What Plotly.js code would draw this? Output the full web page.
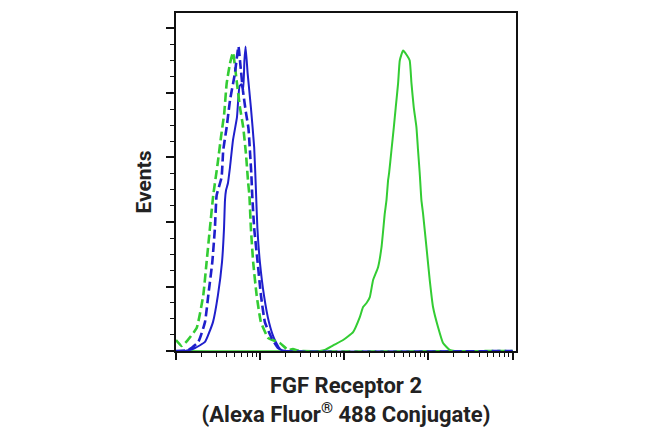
<!DOCTYPE html>
<html>
<head>
<meta charset="utf-8">
<script src="https://cdn.plot.ly/plotly-3.0.1.min.js"></script>
<style>
  body { margin: 0; background: #fff; }
  #chart { width: 650px; height: 438px; }
</style>
</head>
<body>
<div id="chart"></div>
<script>
// fluorescence intensity (log axis) and event counts
var blueSolidX = [10, 12.8, 16.8, 22.1, 27.5, 31.5, 35.2, 37.2, 38.2, 39.3, 41.4, 43.8, 47.5, 53.0, 56.8, 59.8, 62.9, 65.0, 67.1, 71.0, 77.6, 84.9, 89.1, 92.7, 99.3, 110.9, 127.1, 145.5, 171.4, 196.8, 100000];
var blueSolidY = [0, 0, 2.3, 7.0, 22.4, 43.3, 68.9, 95.2, 116.9, 124.6, 130.0, 142.4, 163.3, 181.1, 205.1, 206.7, 202.8, 225.2, 236.1, 215.2, 188.9, 157.9, 124.6, 95.2, 68.9, 43.3, 22.4, 10.1, 1.5, 0, 0];

var blueDashX = [10, 14.0, 18.4, 22.1, 24.2, 27.0, 29.0, 30.4, 34.8, 36.4, 40.0, 43.8, 50.1, 55.2, 58.3, 62.4, 67.7, 72.6, 75.5, 78.7, 80.5, 84.9, 93.3, 102.1, 113.8, 136.8, 163.7, 196.8, 100000];
var blueDashY = [0, 0.8, 7.0, 22.4, 43.3, 68.9, 95.2, 120.7, 134.7, 155.6, 173.4, 194.3, 215.2, 236.1, 221.4, 202.0, 185.0, 172.6, 155.6, 136.2, 120.7, 95.2, 68.9, 43.3, 22.4, 10.1, 2.3, 0, 0];

var greenDashX = [10, 11.7, 13.5, 17.6, 21.1, 23.1, 25.3, 27.7, 31.3, 34.2, 37.4, 40.0, 43.8, 47.5, 52.5, 57.5, 62.9, 67.7, 72.1, 74.5, 77.6, 82.6, 90.8, 102.1, 124.7, 171.4, 215.3, 244.9, 296.5, 100000];
var greenDashY = [8.5, 3.9, 7.7, 17.8, 43.3, 68.9, 95.2, 120.7, 145.5, 165.6, 184.2, 207.4, 222.9, 231.4, 209.8, 188.9, 173.4, 153.3, 130.0, 120.7, 95.2, 68.9, 43.3, 22.4, 10.1, 6.2, 0.8, 1.5, 0, 0];

var greenSolidX = [10, 512, 587, 737, 968, 1271, 1528, 1671, 1837, 2009, 2198, 2518, 2767, 3027, 3170, 3311, 3404, 3631, 3873, 4083, 4355, 4560, 4989, 5559, 5984, 6281, 6683, 7194, 7516, 7870, 8241, 8610, 9462, 10351, 11327, 12977, 14894, 17865, 20512, 100000];
var greenSolidY = [0, 0, 0.8, 4.4, 8.5, 14.7, 26.3, 34.1, 37.2, 41.8, 55.0, 65.0, 80.5, 106.8, 116.9, 132.4, 137.8, 155.6, 173.4, 188.9, 207.4, 225.2, 233.0, 229.1, 225.2, 207.4, 188.9, 173.4, 155.6, 137.8, 116.9, 106.8, 80.5, 55.0, 34.1, 18.6, 6.2, 0.8, 0, 0];

var blue = '#1f1fcc';
var green = '#33cc33';

function trace(x, y, color, dash, w) {
  return {
    x: x, y: y, type: 'scatter', mode: 'lines',
    line: {color: color, width: w, dash: dash, shape: 'spline', smoothing: 0.4},
    hoverinfo: 'skip'
  };
}

var data = [
  trace(greenSolidX, greenSolidY, green, 'solid', 2),
  trace(blueSolidX, blueSolidY, blue, 'solid', 2),
  trace(greenDashX, greenDashY, green, '9px,4px', 2.6),
  trace(blueDashX, blueDashY, blue, '9px,4px', 2.6)
];

var titleFont = {family: 'Roboto, Arial, sans-serif', size: 22, color: '#222', weight: 'bold'};

var layout = {
  width: 650, height: 438,
  margin: {l: 176, r: 134, t: 13, b: 87},
  paper_bgcolor: '#fff', plot_bgcolor: '#fff',
  showlegend: false,
  xaxis: {
    type: 'log', range: [1, 5.04],
    showgrid: false, zeroline: false,
    showline: true, linecolor: '#111', linewidth: 2, mirror: true,
    ticks: 'outside', ticklen: 7, tickwidth: 2, tickcolor: '#111',
    dtick: 1, showticklabels: false,
    minor: {ticks: 'outside', ticklen: 4, tickwidth: 1, tickcolor: '#111', dtick: 'D1', showgrid: false},
    layer: 'below traces',
    title: {text: 'FGF Receptor 2<br>(Alexa Fluor<sup>®</sup> 488 Conjugate)', font: titleFont, standoff: 19},
    automargin: false
  },
  yaxis: {
    range: [0, 262],
    showgrid: false, zeroline: false,
    showline: true, linecolor: '#111', linewidth: 2, mirror: true,
    ticks: 'outside', ticklen: 8, tickwidth: 2, tickcolor: '#111',
    dtick: 50, showticklabels: false,
    minor: {ticks: 'outside', ticklen: 4, tickwidth: 1, tickcolor: '#111', dtick: 12.5, showgrid: false},
    layer: 'below traces',
    title: {text: 'Events', font: {family: 'Roboto, Arial, sans-serif', size: 21, color: '#222', weight: 'bold'}, standoff: 9},
    automargin: false
  }
};

Plotly.newPlot('chart', data, layout, {staticPlot: true, displayModeBar: false});
</script>
</body>
</html>
